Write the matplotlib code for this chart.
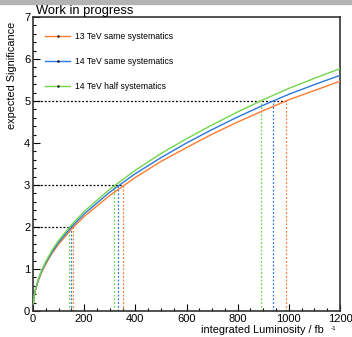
import numpy as np
import matplotlib
matplotlib.use('Agg')
import matplotlib.pyplot as plt
from matplotlib.lines import Line2D
from matplotlib.patches import Rectangle
from matplotlib.ticker import MultipleLocator

plt.rcParams['font.family'] = ['Liberation Sans', 'DejaVu Sans']

# expected significance vs integrated luminosity
lumi = [1, 5, 10, 20, 35, 50, 75, 100, 150, 200, 300, 400, 500,
        600, 700, 800, 900, 1000, 1100, 1200]
sig_13_same = [0.16, 0.36, 0.50, 0.71, 0.94, 1.12, 1.38, 1.59, 1.95, 2.25,
               2.75, 3.18, 3.56, 3.89, 4.21, 4.50, 4.77, 5.03, 5.25, 5.47]
sig_14_same = [0.16, 0.37, 0.52, 0.73, 0.97, 1.15, 1.41, 1.63, 2.00, 2.31,
               2.83, 3.27, 3.65, 4.00, 4.32, 4.62, 4.90, 5.16, 5.39, 5.61]
sig_14_half = [0.17, 0.37, 0.53, 0.75, 0.99, 1.18, 1.45, 1.68, 2.05, 2.37,
               2.90, 3.35, 3.75, 4.10, 4.43, 4.74, 5.03, 5.30, 5.54, 5.77]

labels = ['13 TeV same systematics', '14 TeV same systematics', '14 TeV half systematics']
colors = ['#ff7b2e', '#2a78dc', '#72d64a']

# luminosity needed to reach 2, 3 and 5 sigma
levels = [2, 3, 5]
lumi_13_same = [156, 350, 989]
lumi_14_same = [148, 332, 937]
lumi_14_half = [142, 318, 891]

fig = plt.figure(figsize=(3.52, 3.37), dpi=100)
fig.patches.append(Rectangle((0, 1 - 4 / 337), 1, 4 / 337, transform=fig.transFigure,
                             color='#b4b4b4', zorder=0))
ax = fig.add_axes([33 / 352, 26 / 337, 307 / 352, 294 / 337])

series = [sig_13_same, sig_14_same, sig_14_half]
reach = [lumi_13_same, lumi_14_same, lumi_14_half]
for s, c in zip(series, colors):
    ax.plot(lumi, s, color=c, lw=1.0, zorder=3)

dots = (0, (1.5, 1.5))
for i, lev in enumerate(levels):
    xs = [r[i] for r in reach]
    ax.plot([0, max(xs)], [lev, lev], color='black', lw=0.9, ls=dots, zorder=2)
    for x, c in zip(xs, colors):
        ax.plot([x, x], [0, lev], color=c, lw=0.9, ls=dots, zorder=2)

ax.set_xlim(0, 1200)
ax.set_ylim(0, 7)
ax.xaxis.set_major_locator(MultipleLocator(200))
ax.xaxis.set_minor_locator(MultipleLocator(50))
ax.yaxis.set_major_locator(MultipleLocator(1))
ax.yaxis.set_minor_locator(MultipleLocator(0.2))
ax.tick_params(which='both', direction='in', labelsize=8, width=0.8, pad=2,
               top=False, right=False)
ax.tick_params(which='major', length=5)
ax.tick_params(which='minor', length=2.5)
for sp in ax.spines.values():
    sp.set_linewidth(1.2)
    sp.set_color('#333333')

handles = [Line2D([], [], color=c, lw=1.0, marker='.', markersize=1.5,
                  markerfacecolor='black', markeredgecolor='black') for c in colors]
ax.legend(handles, labels, loc='upper left', bbox_to_anchor=(0.02, 0.968),
          frameon=False, fontsize=6.2, handlelength=2.9, handletextpad=0.6,
          labelspacing=1.85, numpoints=1, borderaxespad=0.3)

fig.text(36 / 352, 1 - 14 / 337, 'Work in progress', fontsize=9.3, va='baseline')
fig.text(12 / 352, 1 - 22 / 337, 'expected Significance', fontsize=7.8,
         rotation=90, ha='center', va='top')
fig.text(324 / 352, 1 - 330 / 337, 'integrated Luminosity / fb', fontsize=7.8,
         ha='right', va='center')
fig.text(334 / 352, 1 - 328 / 337, '-1', fontsize=4.5, ha='center', va='center')

fig.savefig('out.png', dpi=100)
